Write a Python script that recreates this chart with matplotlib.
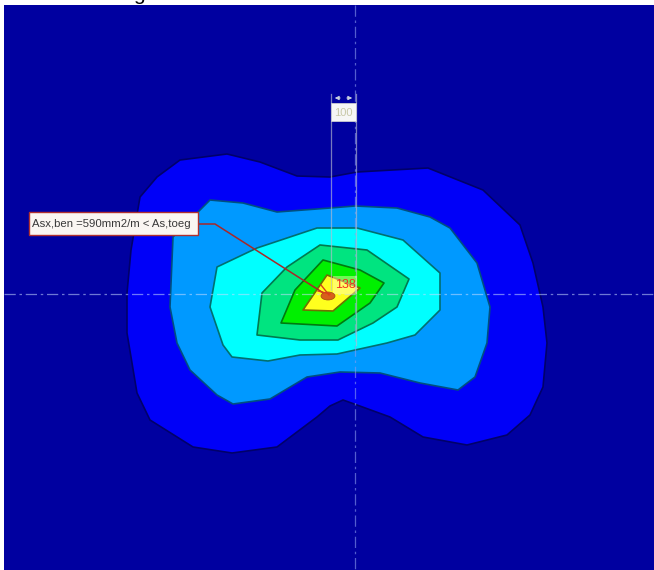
import matplotlib
matplotlib.use("Agg")
import matplotlib.pyplot as plt
from matplotlib.patches import Rectangle, Ellipse

plt.rcParams['font.family'] = ['Liberation Sans', 'DejaVu Sans']

# Contour outlines (x, y in image units)
outer_x = [127,131,140,157,180,227,260,297,330,357,428,483,520,533,543,547,543,530,507,467,423,390,357,343,330,317,277,232,193,150,137,127]
outer_y = [293,250,197,177,160,154,162,176,177,172,168,190,225,263,307,343,387,415,435,445,437,417,405,400,406,417,447,453,447,420,393,333]
second_x = [170,173,200,210,243,277,330,355,397,430,450,477,490,487,475,458,420,380,340,307,270,233,217,190,177]
second_y = [307,237,210,200,203,212,208,206,208,217,228,263,307,343,377,390,383,373,372,377,399,404,395,370,343]
third_x = [210,217,257,317,357,403,440,440,415,387,337,300,268,232,223]
third_y = [307,267,248,228,228,240,273,310,335,343,354,355,361,357,345]
fourth_x = [257,262,287,320,367,409,397,373,338,300]
fourth_y = [335,293,267,245,250,279,307,323,340,340]
fifth_x = [281,295,323,360,384,370,337]
fifth_y = [323,290,260,270,283,303,326]
sixth_x = [303,327,360,333]
sixth_y = [310,275,288,311]

fills = ['#0000F8', '#0099FF', '#00FFFF', '#00E480', '#00F000', '#FFFF1E']
edges = ['#00006A', '#004F80', '#007070', '#007A50', '#007A10', '#6F7000']
outlines = [(outer_x, outer_y), (second_x, second_y), (third_x, third_y),
            (fourth_x, fourth_y), (fifth_x, fifth_y), (sixth_x, sixth_y)]

label_text = 'Asx,ben =590mm2/m < As,toeg'
dim_text = '100'
peak_text = '138'
cut_text = 'g'

fig = plt.figure(figsize=(6.54, 5.70), dpi=100, facecolor='white')
ax = fig.add_axes([0, 0, 1, 1])
ax.set_xlim(0, 654)
ax.set_ylim(570, 0)
ax.axis('off')

ax.add_patch(Rectangle((4, 5), 650, 565, facecolor='#0000A0', edgecolor='none', zorder=0))

for (xs, ys), fc, ec, z in zip(outlines, fills, edges, range(1, 7)):
    ax.fill(xs, ys, facecolor=fc, edgecolor=ec, linewidth=1.2, joinstyle='round', zorder=z)

# Centre lines
ax.plot([4, 654], [294, 294], color='#C8DCFF', lw=0.9, alpha=0.55,
        dashes=(9, 3, 2, 3), zorder=8)
ax.plot([355, 355], [5, 570], color='#8C9CF0', lw=0.9, alpha=0.6,
        dashes=(9, 3, 2, 3), zorder=8)

# Dimension lines
ax.plot([331, 331], [94, 290], color='#B8BCD0', lw=0.9, alpha=0.65, zorder=8)
ax.plot([356, 356], [94, 345], color='#B8BCD0', lw=0.9, alpha=0.65, zorder=8)
ax.annotate('', xy=(332, 98), xytext=(343, 98),
            arrowprops=dict(arrowstyle='-|>', color='#C8D0E0', lw=0.7, mutation_scale=6), zorder=9)
ax.annotate('', xy=(355, 98), xytext=(344, 98),
            arrowprops=dict(arrowstyle='-|>', color='#C8D0E0', lw=0.7, mutation_scale=6), zorder=9)
ax.add_patch(Rectangle((331, 103), 25, 18, facecolor='#F6F6F6', edgecolor='#C0C0D0', lw=0.7, zorder=9))
ax.text(343.5, 112.5, dim_text, color='#C8C8A8', fontsize=8, ha='center', va='center', zorder=10)

# Peak marker and value
ax.add_patch(Rectangle((333, 276), 24, 18, facecolor='#FFFFC0', edgecolor='none', alpha=0.45, zorder=9))
ax.text(345, 285, peak_text, color='#F03020', fontsize=9, ha='center', va='center', zorder=10)
ax.add_patch(Ellipse((328, 296), 14, 8, facecolor='#D8601A', edgecolor='#A04A10', lw=0.5, zorder=10))
ax.plot([321, 329], [285, 295], color='#D8401A', lw=1.0, zorder=10)
ax.plot([318, 330], [291, 294], color='#D8401A', lw=1.0, zorder=10)

# Leader and label box
ax.plot([197, 215, 325], [224, 224, 294], color='#A82828', lw=1.1, zorder=9)
ax.add_patch(Rectangle((29, 212), 169, 23, facecolor='#FAF6F2', edgecolor='#B03030', lw=1.0, zorder=11))
ax.text(32, 224, label_text, color='#383838', fontsize=8.2, ha='left', va='center', zorder=12)

# Caption fragment cut by the top edge, as in the reference
ax.text(139, 0, cut_text, color='black', fontsize=15, ha='center', va='baseline', zorder=12, clip_on=True)

fig.savefig('out.png', dpi=100, facecolor='white')
